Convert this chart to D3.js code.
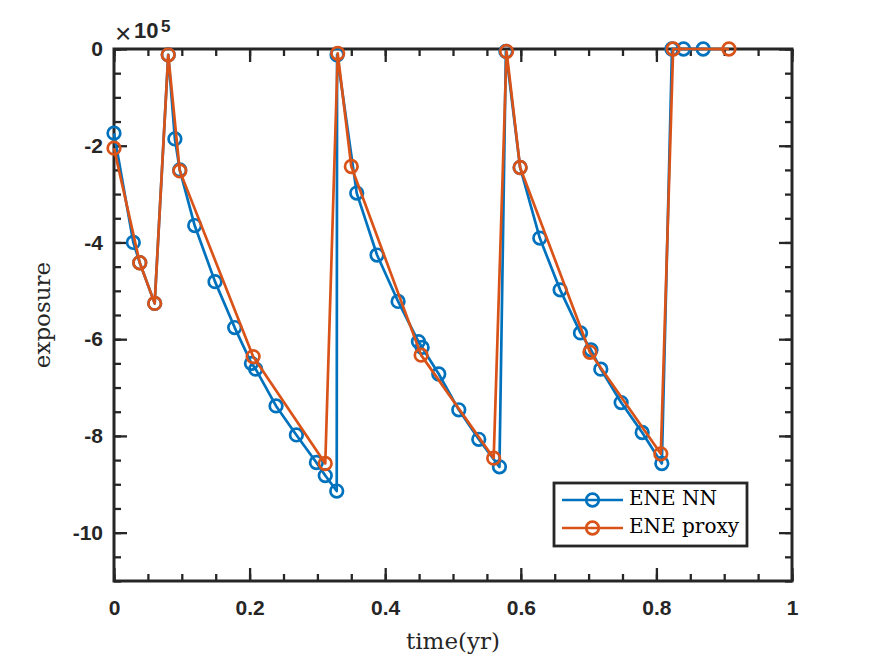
<!DOCTYPE html>
<html>
<head>
<meta charset="utf-8">
<script src="https://cdn.jsdelivr.net/npm/d3@7"></script>
<style>
  html, body { margin: 0; padding: 0; background: #ffffff; }
  svg { display: block; }
</style>
</head>
<body>
<div id="chart"></div>
<script>
// ENE NN series (time in years, exposure raw)
const nnTime = [0, 0.0285, 0.038, 0.060, 0.080, 0.0898, 0.097, 0.119, 0.149, 0.178,
  0.2027, 0.209, 0.239, 0.269, 0.2985, 0.3116, 0.3285, 0.329, 0.358, 0.388,
  0.419, 0.449, 0.4545, 0.479, 0.5085, 0.538, 0.5685, 0.578, 0.599, 0.628,
  0.658, 0.688, 0.7035, 0.718, 0.748, 0.779, 0.808, 0.823, 0.840, 0.869];
const nnExposure = [-174000, -400000, -442000, -526000, -12000, -186000, -250000, -365000, -481000, -576000,
  -650000, -662000, -738000, -798000, -855000, -882000, -914000, -12000, -298000, -426000,
  -522000, -605000, -617000, -672000, -746000, -807000, -864000, -5000, -245000, -391000,
  -498000, -587000, -622000, -662000, -731000, -793000, -857000, 0, 0, 0];

// ENE proxy series
const proxyTime = [0, 0.038, 0.060, 0.080, 0.097, 0.2052, 0.3116, 0.330, 0.350, 0.453,
  0.560, 0.579, 0.599, 0.702, 0.8065, 0.8247, 0.907];
const proxyExposure = [-205000, -442000, -526000, -12000, -252000, -636000, -857000, -9000, -243000, -633000,
  -846000, -5000, -245000, -627000, -837000, 0, 0];

const seriesNames = ["ENE NN", "ENE proxy"];
const xTicks = [0, 0.2, 0.4, 0.6, 0.8, 1];
const yTicks = [0, -200000, -400000, -600000, -800000, -1000000];

const width = 875,
  height = 656,
  marginLeft = 114,
  marginRight = 83,
  marginTop = 49,
  marginBottom = 75;

const colorNN = "#0072BD",
  colorProxy = "#D95319",
  axisColor = "#262626";

const x = d3.scaleLinear().domain([0, 1]).range([marginLeft, width - marginRight]);
const y = d3.scaleLinear().domain([-1100000, 0]).range([height - marginBottom, marginTop]);

const svg = d3
  .select("#chart")
  .append("svg")
  .attr("width", width)
  .attr("height", height)
  .attr("viewBox", [0, 0, width, height]);

svg.append("rect").attr("width", width).attr("height", height).attr("fill", "#ffffff");

const tickFont = "'Liberation Sans', Arial, Helvetica, sans-serif";
const serifFont = "'DejaVu Serif', serif";
const lineWidth = 2.7;

// minor ticks, all four sides
const xMinor = d3.range(0, 1.0001, 0.05);
const yMinor = d3.range(-1100000, 1, 50000);

function styleAxis(g) {
  g.select(".domain").remove();
  g.selectAll(".tick line").attr("stroke", axisColor).attr("stroke-width", 2.3);
}

function styleLabels(g) {
  g.selectAll(".tick text")
    .attr("fill", axisColor)
    .style("font-family", tickFont)
    .style("font-weight", "bold")
    .style("font-size", "21px");
}

svg.append("g")
  .attr("transform", `translate(0,${height - marginBottom})`)
  .call(d3.axisBottom(x).tickValues(xMinor).tickSize(-7).tickFormat(""))
  .call(styleAxis);
svg.append("g")
  .attr("transform", `translate(0,${marginTop})`)
  .call(d3.axisTop(x).tickValues(xMinor).tickSize(-7).tickFormat(""))
  .call(styleAxis);
svg.append("g")
  .attr("transform", `translate(${marginLeft},0)`)
  .call(d3.axisLeft(y).tickValues(yMinor).tickSize(-7).tickFormat(""))
  .call(styleAxis);
svg.append("g")
  .attr("transform", `translate(${width - marginRight},0)`)
  .call(d3.axisRight(y).tickValues(yMinor).tickSize(-7).tickFormat(""))
  .call(styleAxis);

// major ticks with labels
svg.append("g")
  .attr("transform", `translate(0,${height - marginBottom})`)
  .call(d3.axisBottom(x).tickValues(xTicks).tickSize(-13).tickPadding(19).tickFormat(d3.format("")))
  .call(styleAxis)
  .call(styleLabels);
svg.append("g")
  .attr("transform", `translate(0,${marginTop})`)
  .call(d3.axisTop(x).tickValues(xTicks).tickSize(-13).tickFormat(""))
  .call(styleAxis);
svg.append("g")
  .attr("transform", `translate(${marginLeft},0)`)
  .call(d3.axisLeft(y).tickValues(yTicks).tickSize(-13).tickPadding(11).tickFormat((d) => d / 1e5))
  .call(styleAxis)
  .call(styleLabels);
svg.append("g")
  .attr("transform", `translate(${width - marginRight},0)`)
  .call(d3.axisRight(y).tickValues(yTicks).tickSize(-13).tickFormat(""))
  .call(styleAxis);

// box
svg.append("rect")
  .attr("x", marginLeft)
  .attr("y", marginTop)
  .attr("width", width - marginLeft - marginRight)
  .attr("height", height - marginTop - marginBottom)
  .attr("fill", "none")
  .attr("stroke", axisColor)
  .attr("stroke-width", 3);

// exponent label (x10^5)
const expo = svg.append("g").attr("fill", axisColor).style("font-family", tickFont);
expo.append("text").attr("x", 115).attr("y", 43).style("font-size", "28px").text("×");
expo.append("text").attr("x", 134).attr("y", 38).style("font-size", "22px").style("font-weight", "bold").text("10");
expo.append("text").attr("x", 161).attr("y", 32).style("font-size", "17px").style("font-weight", "bold").text("5");

// axis titles
svg.append("text")
  .attr("x", (marginLeft + width - marginRight) / 2)
  .attr("y", 649)
  .attr("text-anchor", "middle")
  .attr("fill", axisColor)
  .style("font-family", serifFont)
  .style("font-size", "23px")
  .text("time(yr)");

svg.append("text")
  .attr("transform", `translate(50,${(marginTop + height - marginBottom) / 2})rotate(-90)`)
  .attr("text-anchor", "middle")
  .attr("fill", axisColor)
  .style("font-family", serifFont)
  .style("font-size", "23px")
  .text("exposure");

// series
const line = d3.line().x((d) => x(d[0])).y((d) => y(d[1]));

function drawSeries(times, values, color) {
  const pts = d3.zip(times, values);
  const g = svg.append("g");
  g.append("path")
    .datum(pts)
    .attr("d", line)
    .attr("fill", "none")
    .attr("stroke", color)
    .attr("stroke-width", lineWidth)
    .attr("stroke-linejoin", "round");
  g.selectAll("circle")
    .data(pts)
    .join("circle")
    .attr("cx", (d) => x(d[0]))
    .attr("cy", (d) => y(d[1]))
    .attr("r", 6.3)
    .attr("fill", "none")
    .attr("stroke", color)
    .attr("stroke-width", lineWidth);
}

drawSeries(nnTime, nnExposure, colorNN);
drawSeries(proxyTime, proxyExposure, colorProxy);

// legend
const legend = svg.append("g").attr("transform", "translate(554,483)");
legend.append("rect")
  .attr("width", 193)
  .attr("height", 63)
  .attr("fill", "#ffffff")
  .attr("stroke", axisColor)
  .attr("stroke-width", 2.8);

const legendColors = [colorNN, colorProxy];
seriesNames.forEach((name, i) => {
  const row = legend.append("g").attr("transform", `translate(0,${17 + i * 28})`);
  row.append("line")
    .attr("x1", 8).attr("x2", 69)
    .attr("stroke", legendColors[i])
    .attr("stroke-width", lineWidth);
  row.append("circle")
    .attr("cx", 38.5)
    .attr("r", 6.3)
    .attr("fill", "none")
    .attr("stroke", legendColors[i])
    .attr("stroke-width", lineWidth);
  row.append("text")
    .attr("x", 75)
    .attr("y", 5)
    .attr("fill", "#000000")
    .style("font-family", serifFont)
    .style("font-size", "20px")
    .text(name);
});
</script>
</body>
</html>
